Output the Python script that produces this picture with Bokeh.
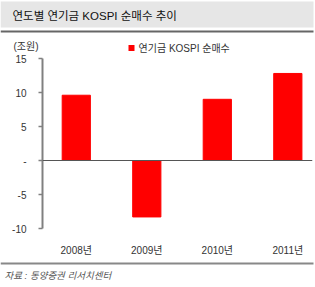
from bokeh.plotting import figure
from bokeh.layouts import column
from bokeh.models import Range1d, FixedTicker, Label, Span
from bokeh.embed import file_html
from bokeh.resources import INLINE

# ---- data ----
years = ["2008년", "2009년", "2010년", "2011년"]
values = [9.6, -8.3, 9.0, 12.8]
y_ticks = [-10, -5, 0, 5, 10, 15]
y_tick_labels = ["-10", "-5", "-", "5", "10", "15"]
title_text = "연도별 연기금 KOSPI 순매수 추이"
legend_text = "연기금 KOSPI 순매수"
unit_text = "(조원)"
source_text = "자료 : 동양증권 리서치센터"

FONT = "'Liberation Sans', 'Noto Sans CJK KR'"
RED = "#ff0000"
W = 315
TOP_H, MAIN_H, BOT_H = 54, 204, 29


def blank(h):
    f = figure(width=W, height=h, output_backend="svg", toolbar_location=None,
               x_range=Range1d(0, W), y_range=Range1d(h, 0),
               x_axis_location=None, y_axis_location=None,
               min_border_left=0, min_border_right=0, min_border_top=0,
               min_border_bottom=0, frame_align=False)
    f.outline_line_color = None
    f.xgrid.visible = False
    f.ygrid.visible = False
    return f


def box(f, l, r, t, b, color):
    f.quad(left=[l], right=[r], top=[t], bottom=[b], fill_color=color,
           line_color=None)


def label(f, x, y, text, size, color="#333333", style="normal"):
    f.add_layout(Label(x=x, y=y, text=text,
                       text_font=FONT, text_font_size=size, text_color=color,
                       text_font_style=style, text_baseline="middle"))


# ---- top: title band, unit, legend ----
top = blank(TOP_H)
box(top, 0, 313, 1, 27, "#e6e6e6")
box(top, 0, 313, 30, 32, "#666666")
label(top, 12, 15, title_text, "11.5px", "#111111")
label(top, 13, 46, unit_text, "10px")
box(top, 128, 134, 44.5, 50.5, RED)
label(top, 138, 47.5, legend_text, "10px")

# ---- main chart ----
idx = list(range(len(years)))
p = figure(width=W, height=MAIN_H, output_backend="svg", toolbar_location=None,
           x_range=Range1d(-0.479, 3.35), y_range=Range1d(-10, 15),
           min_border_left=42, min_border_right=3, min_border_top=58 - TOP_H,
           min_border_bottom=TOP_H + MAIN_H - 233, frame_align=False)
p.outline_line_color = None
p.xgrid.visible = False
p.ygrid.visible = False

p.vbar(x=idx, top=values, bottom=0, width=0.4, fill_color=RED, line_color=RED)
p.add_layout(Span(location=0, dimension="width", line_color="#555555", line_width=1.2))

ya = p.yaxis[0]
ya.ticker = FixedTicker(ticks=y_ticks)
ya.major_label_overrides = {t: l for t, l in zip(y_ticks, y_tick_labels)}
ya.axis_line_color = "#808080"
ya.axis_line_width = 2
ya.major_tick_line_color = "#808080"
ya.major_tick_line_width = 1.5
ya.major_tick_out = 4
ya.major_tick_in = 0
ya.minor_tick_line_color = None
ya.major_label_standoff = 12
ya.major_label_text_font = FONT
ya.major_label_text_font_size = "10px"
ya.major_label_text_color = "#333333"

xa = p.xaxis[0]
xa.ticker = FixedTicker(ticks=idx)
xa.major_label_overrides = {i: y for i, y in zip(idx, years)}
xa.axis_line_color = None
xa.major_tick_line_color = None
xa.minor_tick_line_color = None
xa.major_label_standoff = 10
xa.major_label_text_font = FONT
xa.major_label_text_font_size = "10px"
xa.major_label_text_color = "#333333"

# ---- bottom: rule and source ----
bot = blank(BOT_H)
y0 = TOP_H + MAIN_H
box(bot, 0, 313, 262 - y0, 264 - y0, "#888888")
label(bot, 4, 275 - y0, source_text, "9.5px", "#555555", "italic")

layout = column(top, p, bot, spacing=0)
open("out.html", "w").write(file_html(layout, INLINE))
